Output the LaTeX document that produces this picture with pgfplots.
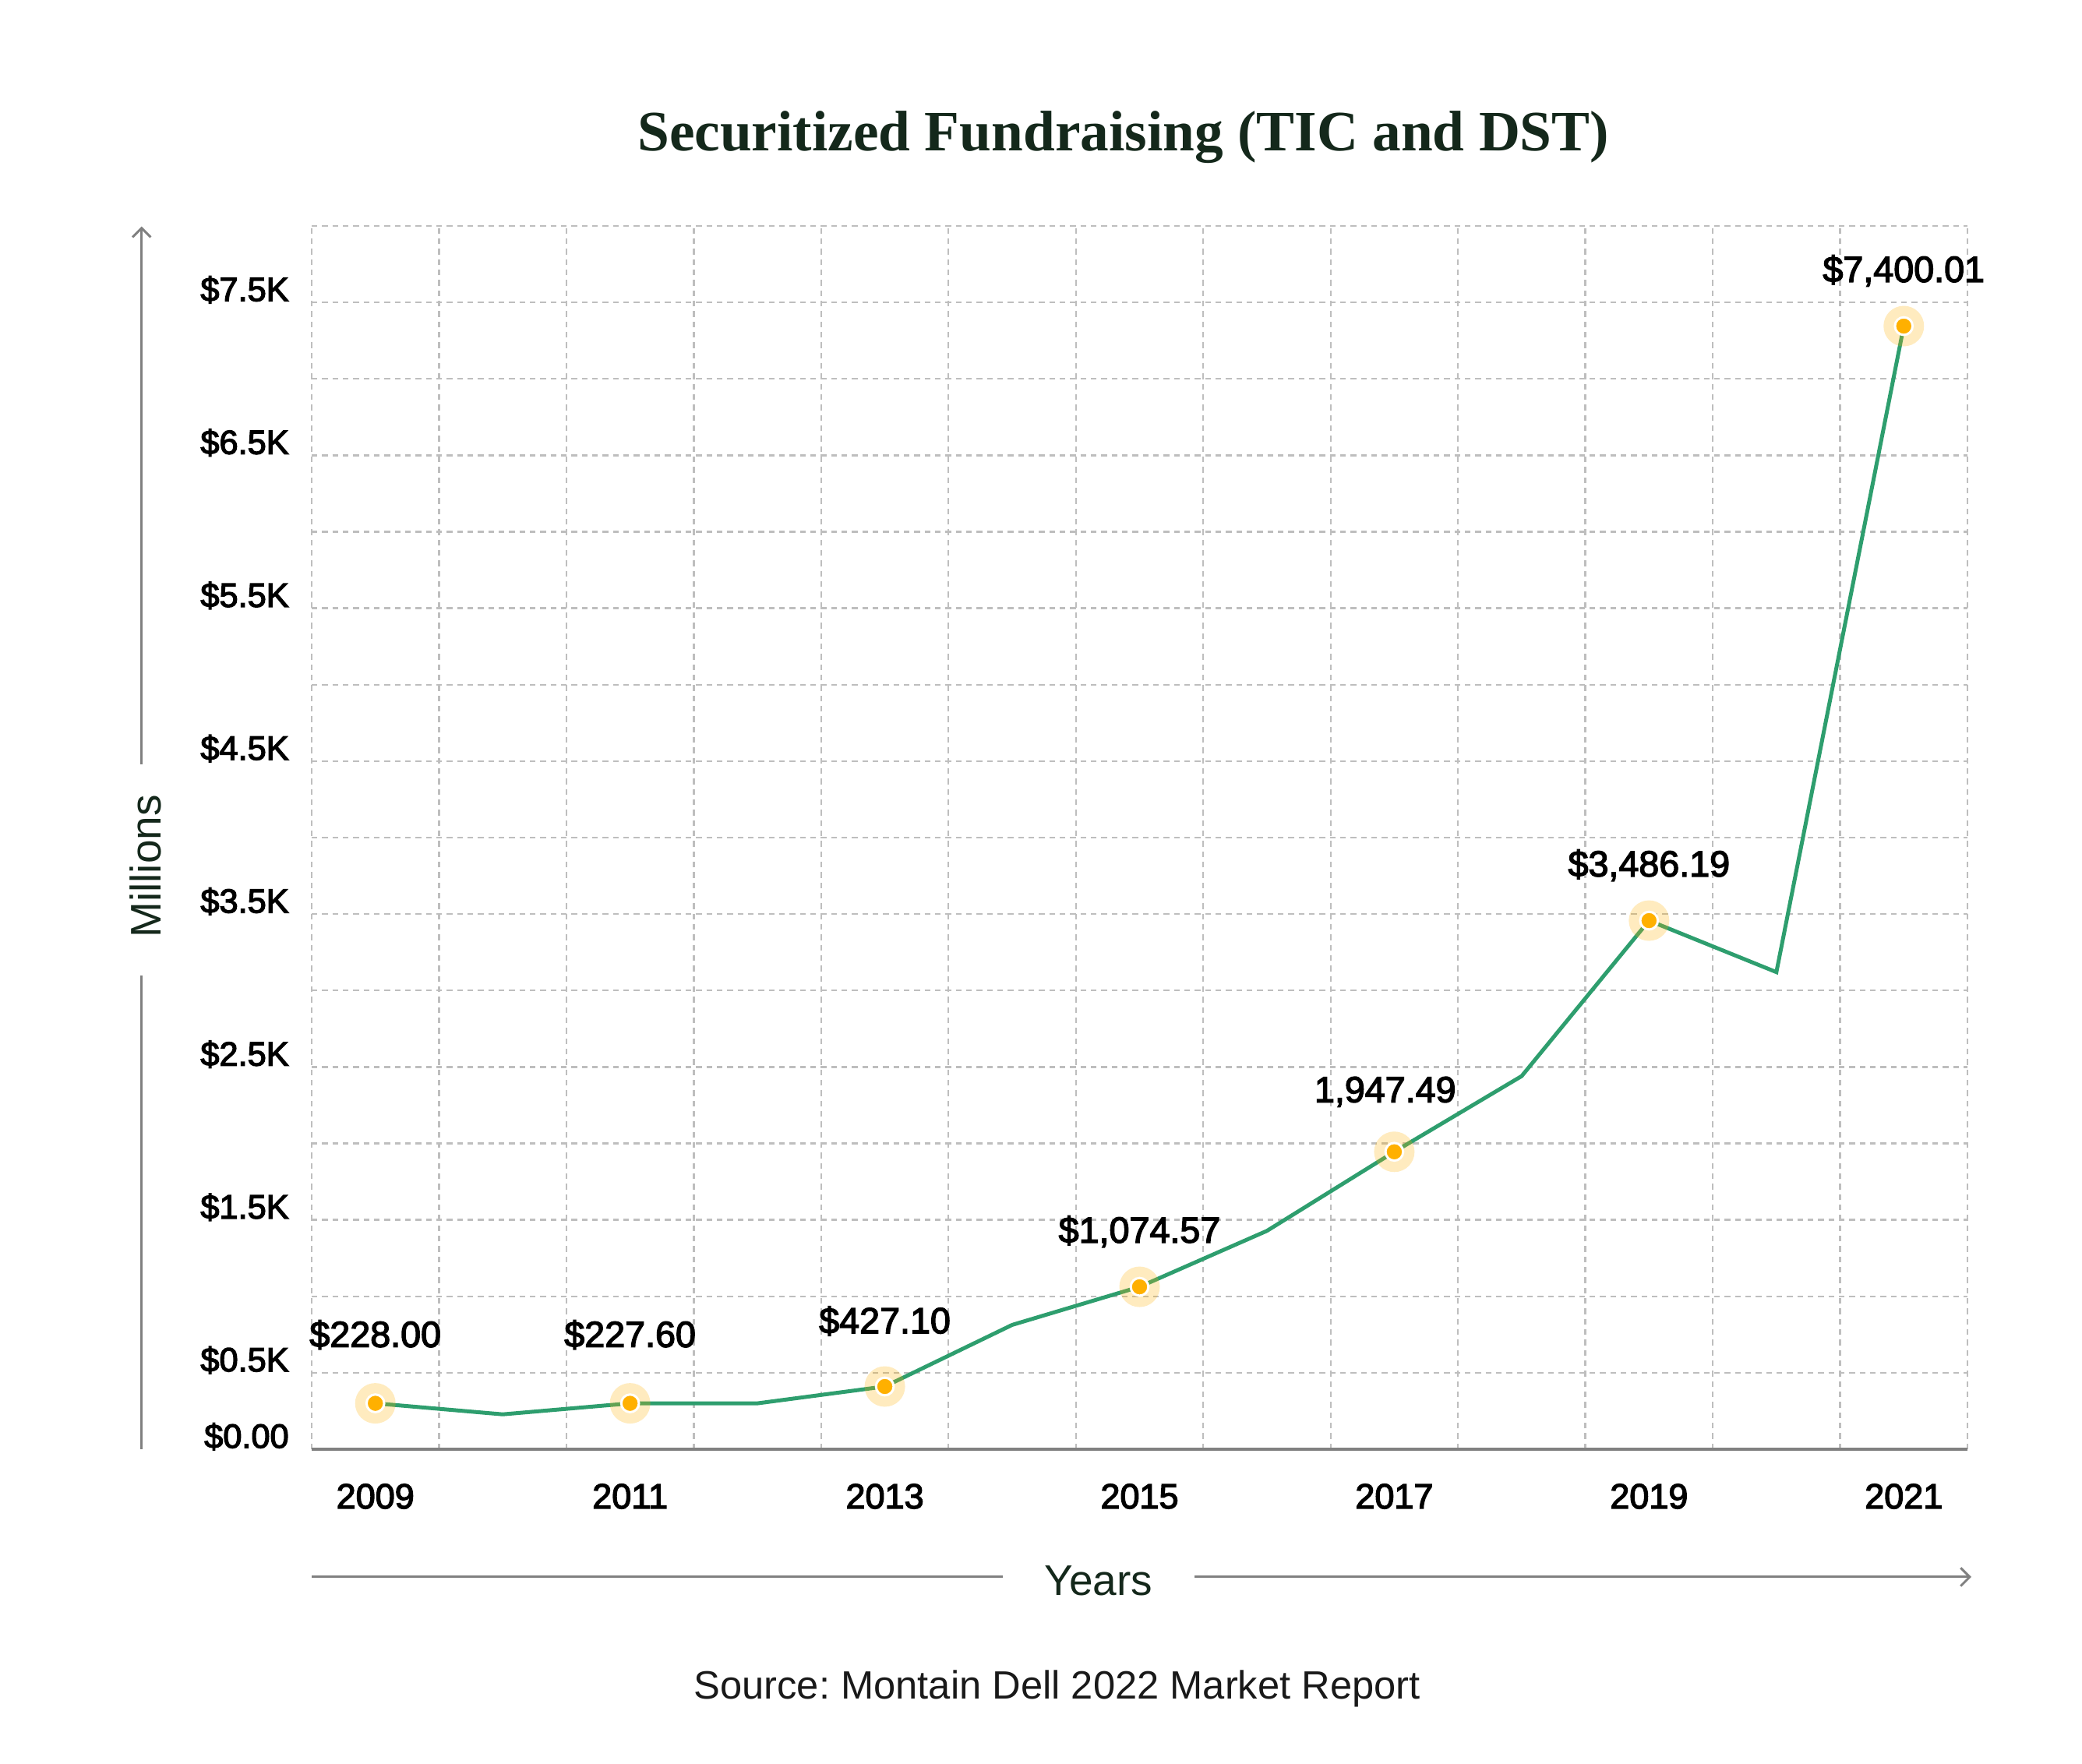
\documentclass[border=0pt]{standalone}
\usepackage{fontspec}
\setmainfont{Liberation Sans}
\newfontfamily\medsans[RawFeature={embolden=3}]{Liberation Sans}
\newfontfamily\titlefont{Liberation Serif}
\usepackage{pgfplots}
\pgfplotsset{compat=1.18}
\usepackage{pgfplotstable}
\usetikzlibrary{arrows.meta}

\definecolor{lgreen}{HTML}{2E9E6E}
\definecolor{dotorange}{HTML}{FFB000}
\definecolor{darkgreen}{HTML}{14281B}
\definecolor{gridgray}{HTML}{BEBEBE}
\definecolor{axgray}{HTML}{808080}

% all yearly points of the line
\pgfplotstableread{
year val
2009 300
2010 228
2011 300
2012 300
2013 410
2014 813
2015 1062
2016 1428
2017 1945
2018 2440
2019 3457
2020 3120
2021 7345
}\tblall

% highlighted points with their labels (dy, dx = label offset in pt)
\pgfplotstableread{
year val label dy dx
2009 300 \$228.00 26.4 0
2011 300 \$227.60 26.4 0
2013 410 \$427.10 25.2 0
2015 1062 \$1,074.57 21.3 0
2017 1945 1,947.49 23.1 -3.5
2019 3457 \$3,486.19 21.3 0
2021 7345 \$7,400.01 21.3 0
}\tblpts

\begin{document}
\frenchspacing
\begin{tikzpicture}
\path[use as bounding box] (0,0) rectangle (801.6pt,679.2pt);
\begin{axis}[
  at={(120pt,121.2pt)}, anchor=south west,
  scale only axis, width=637.5pt, height=471pt,
  xmin=2008.5, xmax=2021.5, ymin=0, ymax=8000,
  clip=false,
  axis lines*=left,
  y axis line style={draw=none},
  x axis line style={-, draw=axgray, line width=1pt},
  xtick={2009,2011,2013,2015,2017,2019,2021},
  xticklabels={2009,2011,2013,2015,2017,2019,2021},
  minor xtick={2008.5,2009.5,2010.5,2011.5,2012.5,2013.5,2014.5,2015.5,2016.5,2017.5,2018.5,2019.5,2020.5,2021.5},
  ytick={0,500,1500,2500,3500,4500,5500,6500,7500},
  yticklabels={\$0.00,\$0.5K,\$1.5K,\$2.5K,\$3.5K,\$4.5K,\$5.5K,\$6.5K,\$7.5K},
  minor ytick={0,500,1000,1500,2000,2500,3000,3500,4000,4500,5000,5500,6000,6500,7000,7500,8000},
  major tick length=0pt, minor tick length=0pt,
  grid=minor,
  minor grid style={draw=gridgray, line width=0.7pt, dash pattern=on 2.2pt off 1.8pt},
  xticklabel style={font=\medsans\fontsize{13.5}{14}\selectfont, anchor=base, inner sep=0pt, yshift=-22.8pt},
  yticklabel style={font=\medsans\fontsize{13}{14}\selectfont, anchor=base east, inner sep=0pt, xshift=-8.6pt, yshift=0.5pt},
]
\addplot[color=lgreen, line width=1.5pt, mark=none] table[x=year, y=val] {\tblall};
\addplot[only marks, mark=*, mark size=7.8pt,
  mark options={fill=dotorange, fill opacity=0.25, draw opacity=0}] table[x=year, y=val] {\tblpts};
\addplot[only marks, mark=*, mark size=3.4pt,
  mark options={draw=white, fill=dotorange, line width=0.9pt},
  point meta=explicit symbolic,
  visualization depends on={\thisrow{dy}\as\dy},
  visualization depends on={\thisrow{dx}\as\dx},
  nodes near coords,
  every node near coord/.append style={anchor=center, inner sep=0pt, text=black,
    font=\medsans\fontsize{14}{15}\selectfont, yshift=\dy pt, xshift=\dx pt}]
  table[x=year, y=val, meta=label] {\tblpts};
\end{axis}

% title
\node[anchor=base, text=darkgreen, font=\titlefont\bfseries\fontsize{22}{26}\selectfont]
  at (432.5pt,621.2pt) {Securitized Fundraising (TIC and DST)};

% y axis arrow and label
\draw[axgray, line width=0.9pt] (54.5pt,121.2pt) -- (54.5pt,303.6pt);
\draw[axgray, line width=0.9pt, -{Straight Barb[length=3.5pt,width=7pt]}] (54.5pt,385pt) -- (54.5pt,592pt);
\node[rotate=90, text=darkgreen, font=\fontsize{16.5}{18}\selectfont] at (56pt,345.6pt) {Millions};

% x axis arrow and label
\draw[axgray, line width=0.9pt] (120pt,72pt) -- (386pt,72pt);
\draw[axgray, line width=0.9pt, -{Straight Barb[length=3.5pt,width=7pt]}] (460pt,72pt) -- (759pt,72pt);
\node[anchor=base, text=darkgreen, font=\fontsize{16.5}{18}\selectfont] at (423pt,64.8pt) {Years};

% source
\node[anchor=base, text=black!90, font=\fontsize{15.2}{17}\selectfont] at (407pt,24.9pt)
  {Source: Montain Dell 2022 Market Report};
\end{tikzpicture}
\end{document}
